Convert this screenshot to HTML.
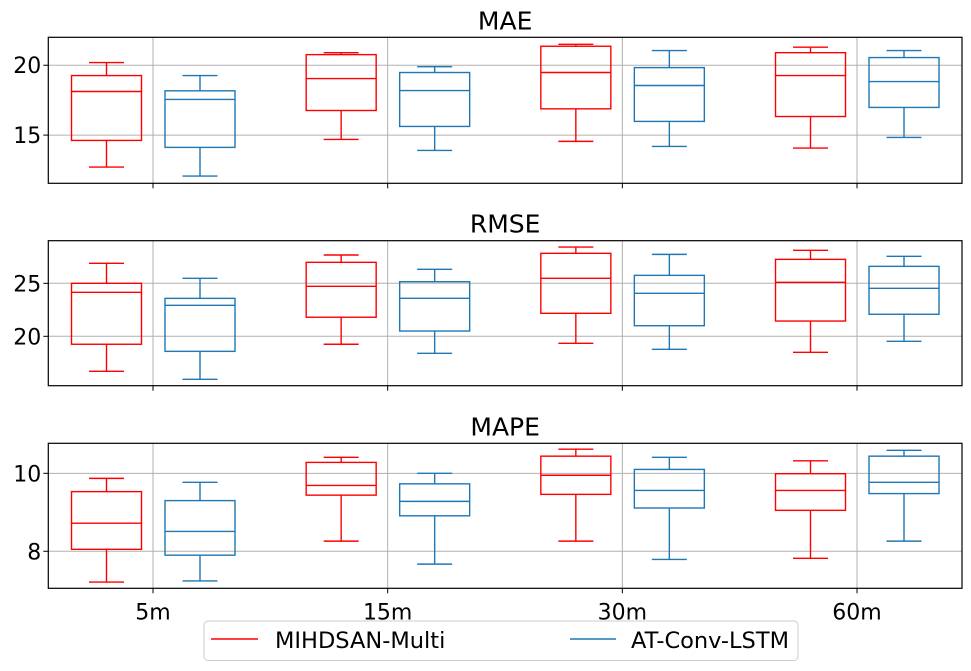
<!DOCTYPE html>
<html><head><meta charset="utf-8"><style>
body{margin:0;background:#fff;}
svg{display:block;font-family:"DejaVu Sans","Liberation Sans",sans-serif;}
</style></head><body>
<svg id="chart" width="971" height="671" viewBox="0 0 971 671" xmlns="http://www.w3.org/2000/svg">
<g id="panels"></g>
<g>
<rect x="204" y="621" width="594" height="39.5" rx="4" fill="#fff" stroke="#ccc" stroke-width="1"/>
<line x1="211" y1="639" x2="258" y2="639" stroke="#ff0000" stroke-width="1.6"/>
<text x="275" y="648" font-size="22.5" fill="#000">MIHDSAN-Multi</text>
<line x1="570" y1="639" x2="616" y2="639" stroke="#1f77b4" stroke-width="1.6"/>
<text x="631" y="648" font-size="22.5" fill="#000">AT-Conv-LSTM</text>
</g>
</svg>
<script>
const categories = ["5m","15m","30m","60m"];
// [low whisker, q1, median, q3, high whisker]
const maeRed  = [[12.71,14.62,18.12,19.26,20.19],[14.69,16.76,19.05,20.76,20.9],[14.55,16.88,19.48,21.36,21.5],[14.07,16.33,19.26,20.9,21.29]];
const maeBlue = [[12.07,14.12,17.55,18.17,19.26],[13.9,15.62,18.19,19.48,19.9],[14.19,15.98,18.55,19.83,21.05],[14.83,16.98,18.83,20.55,21.05]];
const rmseRed  = [[16.7,19.25,24.15,25.0,26.89],[19.25,21.8,24.72,26.98,27.67],[19.34,22.17,25.47,27.83,28.42],[18.49,21.44,25.09,27.26,28.11]];
const rmseBlue = [[15.94,18.58,22.92,23.58,25.47],[18.4,20.5,23.58,25.15,26.32],[18.77,21.0,24.06,25.75,27.73],[19.53,22.08,24.53,26.6,27.55]];
const mapeRed  = [[7.21,8.05,8.72,9.53,9.87],[8.26,9.44,9.69,10.28,10.41],[8.26,9.46,9.95,10.44,10.62],[7.82,9.05,9.56,9.99,10.32]];
const mapeBlue = [[7.24,7.90,8.51,9.30,9.77],[7.67,8.91,9.28,9.73,10.0],[7.79,9.11,9.56,10.10,10.41],[8.26,9.48,9.77,10.44,10.59]];
const maeTicks = [15,20];
const rmseTicks = [20,25];
const mapeTicks = [8,10];

const NS="http://www.w3.org/2000/svg";
const root=document.getElementById('panels');
function mk(tag,attrs,parent){const e=document.createElementNS(NS,tag);for(const k in attrs)e.setAttribute(k,attrs[k]);parent.appendChild(e);return e;}
const X0=48.3,X1=962;
function xScale(i){return 153+i*234.67;}
function panel(name,title,top,bot,ymin,ymax,ticks,red,blue,showX){
  const g=mk('g',{},root);
  
  
  const y=v=>bot-(v-ymin)/(ymax-ymin)*(bot-top);
  ticks.forEach(t=>{
    const l=mk('line',{x1:X0,x2:X1,y1:y(t),y2:y(t),stroke:'#b0b0b0','stroke-width':1},g);
    
    
    const tk=mk('line',{x1:X0-5,x2:X0,y1:y(t),y2:y(t),stroke:'#000','stroke-width':1},g);
    
    
    const tx=mk('text',{x:X0-7,y:y(t)+8,'text-anchor':'end','font-size':'22',fill:'#000'},g);
    tx.textContent=t;
    
    
  });
  categories.forEach((c,i)=>{
    const l=mk('line',{x1:xScale(i),x2:xScale(i),y1:top,y2:bot,stroke:'#b0b0b0','stroke-width':1},g);
    
    
    const tk=mk('line',{x1:xScale(i),x2:xScale(i),y1:bot,y2:bot+5,stroke:'#000','stroke-width':1},g);
    
    
    if(showX){
      const tx=mk('text',{x:xScale(i),y:bot+31,'text-anchor':'middle','font-size':'22',fill:'#000'},g);
      tx.textContent=c;
      
      
    }
  });
  function drawBox(d,i,off,col,series){
    const cx=xScale(i)+off, hw=35, cw=17.5;
    const bg=mk('g',{stroke:col,'stroke-width':1.4,fill:'none'},g);
    
    
    mk('rect',{x:cx-hw,y:y(d[3]),width:2*hw,height:y(d[1])-y(d[3])},bg);
    mk('line',{x1:cx-hw,x2:cx+hw,y1:y(d[2]),y2:y(d[2])},bg);
    mk('line',{x1:cx,x2:cx,y1:y(d[3]),y2:y(d[4])},bg);
    mk('line',{x1:cx,x2:cx,y1:y(d[1]),y2:y(d[0])},bg);
    mk('line',{x1:cx-cw,x2:cx+cw,y1:y(d[4]),y2:y(d[4])},bg);
    mk('line',{x1:cx-cw,x2:cx+cw,y1:y(d[0]),y2:y(d[0])},bg);
  }
  red.forEach((d,i)=>drawBox(d,i,-46.5,'#ff0000','mihdsan'));
  blue.forEach((d,i)=>drawBox(d,i,47,'#1f77b4','atconvlstm'));
  const fr=mk('rect',{x:X0,y:top,width:X1-X0,height:bot-top,fill:'none',stroke:'#000','stroke-width':1.2},g);
  
  
  const tt=mk('text',{x:(X0+X1)/2,y:top-8,'text-anchor':'middle','font-size':'25',fill:'#000'},g);
  tt.textContent=title;
  
  
}
panel('mae','MAE',37.3,183.3,11.55,22.0,maeTicks,maeRed,maeBlue,false);
panel('rmse','RMSE',240.7,385.7,15.34,29.02,rmseTicks,rmseRed,rmseBlue,false);
panel('mape','MAPE',443.3,588.3,7.05,10.77,mapeTicks,mapeRed,mapeBlue,true);
</script>
</body></html>
